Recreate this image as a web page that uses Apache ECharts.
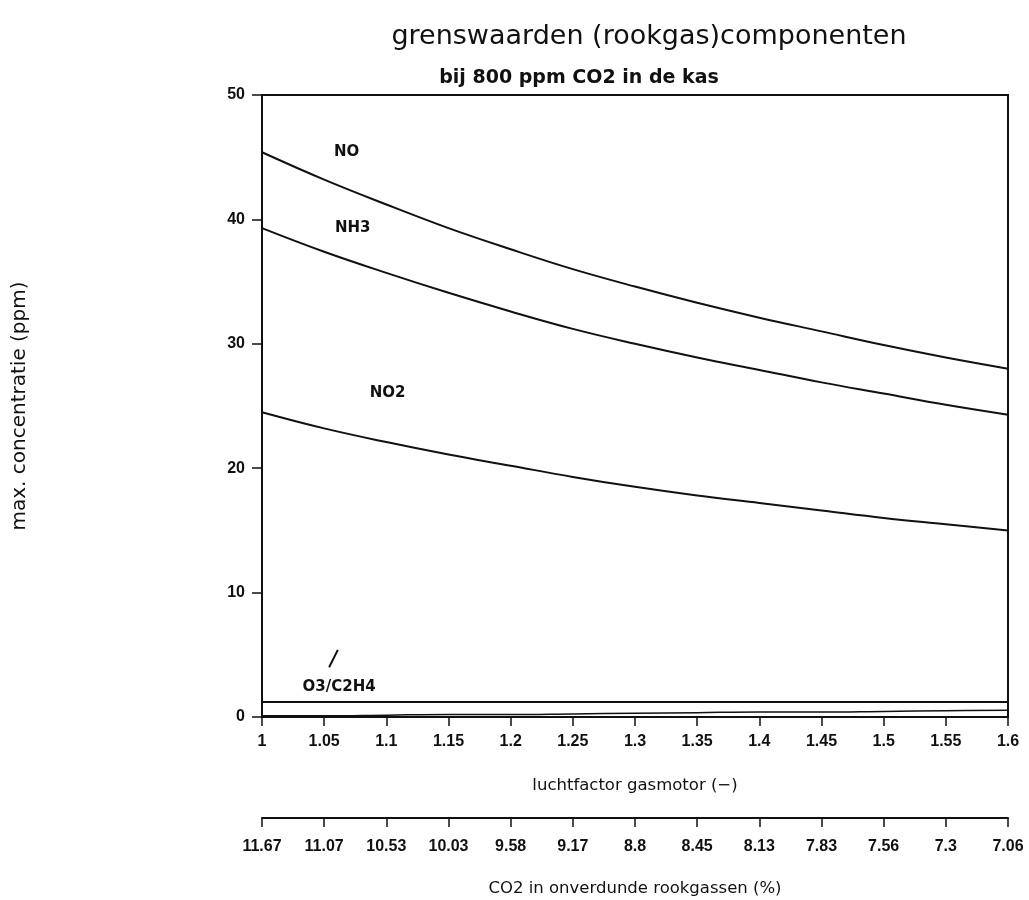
<!DOCTYPE html>
<html>
<head>
<meta charset="utf-8">
<script src="https://cdn.jsdelivr.net/npm/echarts@6/dist/echarts.min.js"></script>
<style>
  html, body { margin: 0; padding: 0; background: #fff; }
  #chart { width: 1029px; height: 900px; }
</style>
</head>
<body>
<div id="chart"></div>
<script>
// luchtfactor gasmotor (-)
var lambda = [1, 1.05, 1.1, 1.15, 1.2, 1.25, 1.3, 1.35, 1.4, 1.45, 1.5, 1.55, 1.6];
// CO2 in onverdunde rookgassen (%)
var co2Labels = ['11.67', '11.07', '10.53', '10.03', '9.58', '9.17', '8.8', '8.45', '8.13', '7.83', '7.56', '7.3', '7.06'];

// max. concentratie (ppm)
var noValues = [45.4, 43.2, 41.2, 39.3, 37.6, 36.0, 34.6, 33.3, 32.1, 31.0, 29.9, 28.9, 28.0];
var nh3Values = [39.3, 37.4, 35.7, 34.1, 32.6, 31.2, 30.0, 28.9, 27.9, 26.9, 26.0, 25.1, 24.3];
var no2Values = [24.5, 23.2, 22.1, 21.1, 20.2, 19.3, 18.5, 17.8, 17.2, 16.6, 16.0, 15.5, 15.0];
var o3Values = [1.2, 1.2, 1.2, 1.2, 1.2, 1.2, 1.2, 1.2, 1.2, 1.2, 1.2, 1.2, 1.2];
var c2h4Values = [0.1, 0.1, 0.15, 0.2, 0.2, 0.25, 0.3, 0.35, 0.4, 0.4, 0.45, 0.5, 0.55];

var FONT = 'DejaVu Sans';
var NUMFONT = '"Liberation Sans", sans-serif';

function pairs(vals) {
  return lambda.map(function (x, i) { return [x, vals[i]]; });
}

// curve labels, placed in data space
function curveLabel(text, x, y) {
  return {
    symbol: 'circle',
    symbolSize: 1,
    silent: true,
    itemStyle: { color: 'rgba(0,0,0,0)' },
    label: { show: true, formatter: text, color: '#111', fontFamily: FONT, fontSize: 15, fontWeight: 'bold', position: 'inside' },
    data: [{ coord: [x, y] }]
  };
}

function line(name, vals, extra) {
  var s = {
    name: name,
    type: 'line',
    data: pairs(vals),
    smooth: 0.4,
    symbol: 'none',
    lineStyle: { color: '#111', width: 2 },
    silent: true
  };
  return Object.assign(s, extra || {});
}

var tickLabel = { fontFamily: NUMFONT, fontSize: 16, fontWeight: 'bold', color: '#111' };

var chart = echarts.init(document.getElementById('chart'));

chart.setOption({
  backgroundColor: '#fff',
  animation: false,
  title: [
    {
      text: 'grenswaarden (rookgas)componenten',
      left: 644, top: 18, textAlign: 'center',
      textStyle: { fontFamily: FONT, fontSize: 27, fontWeight: 'normal', color: '#111' }
    },
    {
      text: 'bij 800 ppm CO2 in de kas',
      left: 574, top: 64, textAlign: 'center',
      textStyle: { fontFamily: FONT, fontSize: 19, fontWeight: 'bold', color: '#111' }
    }
  ],
  grid: {
    left: 262, right: 21, top: 95, bottom: 183,
    outerBoundsMode: 'none', containLabel: false,
    show: true, borderColor: '#111', borderWidth: 2, backgroundColor: 'transparent'
  },
  xAxis: [
    {
      type: 'value',
      min: 1, max: 1.6, interval: 0.05,
      position: 'bottom',
      name: 'luchtfactor gasmotor (\u2212)',
      nameLocation: 'middle', nameGap: 60,
      nameTextStyle: { fontFamily: FONT, fontSize: 16.5, color: '#111' },
      axisLine: { show: true, lineStyle: { color: '#111', width: 2 } },
      axisTick: { show: true, length: 9, lineStyle: { color: '#111', width: 1.5 } },
      axisLabel: Object.assign({ margin: 17 }, tickLabel),
      splitLine: { show: false }
    },
    {
      type: 'category',
      data: co2Labels,
      boundaryGap: false,
      position: 'bottom',
      offset: 101,
      name: 'CO2 in onverdunde rookgassen (%)',
      nameLocation: 'middle', nameGap: 62,
      nameTextStyle: { fontFamily: FONT, fontSize: 16.5, color: '#111' },
      axisLine: { show: true, lineStyle: { color: '#111', width: 2 } },
      axisTick: { show: true, length: 9, interval: 0, lineStyle: { color: '#111', width: 1.5 } },
      axisLabel: Object.assign({ margin: 21, interval: 0 }, tickLabel),
      splitLine: { show: false }
    }
  ],
  yAxis: {
    type: 'value',
    min: 0, max: 50, interval: 10,
    name: 'max. concentratie (ppm)',
    nameLocation: 'middle', nameGap: 232, nameRotate: 90,
    nameTextStyle: { fontFamily: FONT, fontSize: 20, color: '#111' },
    axisLine: { show: true, lineStyle: { color: '#111', width: 2 } },
    axisTick: { show: true, length: 10, lineStyle: { color: '#111', width: 1.5 } },
    axisLabel: Object.assign({ margin: 17 }, tickLabel),
    splitLine: { show: false }
  },
  series: [
    line('NO', noValues, { markPoint: curveLabel('NO', 1.068, 45.4) }),
    line('NH3', nh3Values, { markPoint: curveLabel('NH3', 1.073, 39.3) }),
    line('NO2', no2Values, { markPoint: curveLabel('NO2', 1.101, 26.0) }),
    line('O3', o3Values, {
      markPoint: curveLabel('O3/C2H4', 1.062, 2.4),
      markLine: {
        symbol: 'none', silent: true, label: { show: false },
        lineStyle: { color: '#111', width: 2, type: 'solid' },
        data: [[{ coord: [1.054, 4.0] }, { coord: [1.061, 5.4] }]]
      }
    }),
    line('C2H4', c2h4Values, { lineStyle: { color: '#111', width: 1.5 } })
  ]
});
</script>
</body>
</html>
